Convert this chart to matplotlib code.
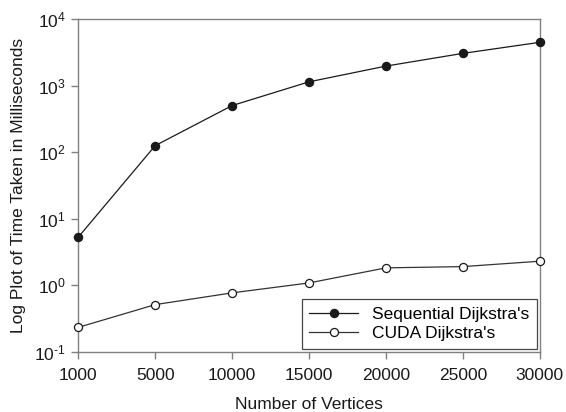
import matplotlib
matplotlib.use("Agg")
import matplotlib.pyplot as plt

plt.rcParams['font.family'] = ['Liberation Sans', 'DejaVu Sans']
plt.rcParams['mathtext.fontset'] = 'custom'
plt.rcParams['mathtext.rm'] = 'Liberation Sans'
plt.rcParams['mathtext.it'] = 'Liberation Sans'

vertices = ["1000", "5000", "10000", "15000", "20000", "25000", "30000"]
sequential = [5.27, 125, 500, 1137, 1960, 3043, 4460]
cuda = [0.232, 0.51, 0.766, 1.08, 1.82, 1.90, 2.29]
yticks = [0.1, 1, 10, 100, 1000, 10000]
ytick_labels = [r"$\mathregular{10^{\text{-}1}}$", r"$\mathregular{10^{0}}$", r"$\mathregular{10^{1}}$",
                r"$\mathregular{10^{2}}$", r"$\mathregular{10^{3}}$", r"$\mathregular{10^{4}}$"]

FS = 12.5
fig = plt.figure(figsize=(5.66, 4.12), dpi=100)
ax = fig.add_axes([78.3/566, 1-351.7/412, (539.7-78.3)/566, (351.7-19)/412])

xpos = list(range(len(vertices)))
ax.plot(xpos, sequential, color='#1a1a1a', lw=0.9, marker='o', ms=5.8,
        mfc='#1a1a1a', mec='#1a1a1a', label="Sequential Dijkstra's", clip_on=False, zorder=3)
ax.plot(xpos, cuda, color='#333333', lw=0.9, marker='o', ms=5.8,
        mfc='white', mec='#1a1a1a', mew=0.9, label="CUDA Dijkstra's", clip_on=False, zorder=3)

ax.set_yscale('log')
ax.set_ylim(0.1, 10000)
ax.set_xlim(0, len(vertices)-1)
ax.set_xticks(xpos)
ax.set_xticklabels(vertices)
ax.set_yticks(yticks)
ax.set_yticklabels(ytick_labels)
ax.minorticks_off()

for s in ax.spines.values():
    s.set_color('#808080')
    s.set_linewidth(1.0)
ax.tick_params(axis='both', direction='out', length=5, width=1.0, color='#808080',
               labelsize=FS, labelcolor='#1a1a1a', pad=4)
ax.tick_params(axis='x', pad=7)

ax.set_xlabel("Number of Vertices", fontsize=FS, color='#1a1a1a', labelpad=10)
ax.set_ylabel("Log Plot of Time Taken in Milliseconds", fontsize=FS, color='#1a1a1a', labelpad=6)

leg = ax.legend(loc='lower right', bbox_to_anchor=(0.994, 0.008), borderaxespad=0,
                fancybox=False, frameon=True, fontsize=FS, handlelength=2.8,
                borderpad=0.45, labelspacing=0.25, handletextpad=0.8)
leg.get_frame().set_edgecolor('#1a1a1a')
leg.get_frame().set_linewidth(0.9)

fig.savefig("out.png", dpi=100)
